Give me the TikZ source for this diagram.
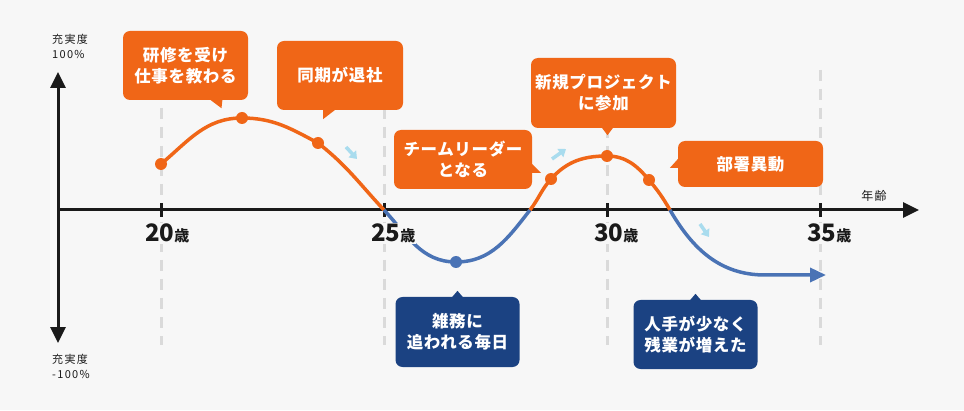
\documentclass[tikz,border=0pt]{standalone}
\usepackage{fontspec}
\setmainfont{Noto Sans CJK JP}
\usepackage{tikz}
\usetikzlibrary{arrows.meta, positioning}
\definecolor{bg}{HTML}{F7F7F7}
\definecolor{ink}{HTML}{1A1A1A}
\definecolor{guidegray}{HTML}{DADADA}
\definecolor{upcolor}{HTML}{F06617}
\definecolor{downcolor}{HTML}{1B4282}
\definecolor{lineblue}{HTML}{4A73B5}
\definecolor{hintblue}{HTML}{A9DCEE}

\begin{document}
\begin{tikzpicture}[x=1pt, y=1pt, font=\fontsize{11}{15}\selectfont]
    \tikzstyle{guide} = [draw=guidegray, line width=3pt, dash pattern=on 11pt off 8pt]
    \tikzstyle{axis} = [draw=ink, line width=3pt]
    \tikzstyle{upline} = [draw=upcolor, line width=3.5pt]
    \tikzstyle{downline} = [draw=lineblue, line width=3.5pt]
    \tikzstyle{updot} = [circle, fill=upcolor, inner sep=0pt, minimum size=12pt]
    \tikzstyle{downdot} = [circle, fill=lineblue, inner sep=0pt, minimum size=12pt]
    \tikzstyle{hint} = [draw=hintblue, line width=3.5pt, -{Triangle[length=7pt,width=10pt]}]
    \tikzstyle{bubble} = [rectangle, rounded corners=7pt, fill=upcolor, text=white, align=center, inner sep=0pt, font=\bfseries\fontsize{16.5}{21}\selectfont\addfontfeature{LetterSpace=4}]
    \tikzstyle{lowbubble} = [bubble, fill=downcolor]
    \tikzstyle{axislabel} = [anchor=north west, inner sep=0pt, text=ink, align=left, font=\fontsize{11}{15}\selectfont\addfontfeature{LetterSpace=12}]
    \tikzstyle{agelabel} = [anchor=base west, fill=bg, inner sep=1pt, text=ink, font=\bfseries\fontsize{24}{24}\selectfont]

    \fill[bg] (0,0) rectangle (964,410);
    \useasboundingbox (0,0) rectangle (964,410);

    \foreach \x in {161,384,607,820}
        \draw[guide] (\x,340) -- (\x,65);

    \coordinate (origin) at (58,200);
    \coordinate (ytop) at (58,338);
    \coordinate (ybot) at (58,67);
    \coordinate (xend) at (919,200);
    \draw[axis, {Triangle[length=16pt,width=15pt]}-{Triangle[length=16pt,width=15pt]}] (ybot) -- (ytop);
    \draw[axis, -{Triangle[length=16pt,width=15pt]}] (origin) -- (xend);
    \foreach \x in {161,384,607,820}
        \draw[axis] (\x,193) -- (\x,207);

    \node (maxlabel) [axislabel] at (52,376) {充実度\\100\%};
    \node (minlabel) [axislabel] at (52,56) {充実度\\-100\%};
    \node (agetitle) [text=ink, font=\fontsize{12}{12}\selectfont\addfontfeature{LetterSpace=12}] at (874,214) {年齢};

    \node (d1) [updot] at (161,246) {};
    \node (d2) [updot] at (242,292) {};
    \node (d3) [updot] at (318,267) {};
    \coordinate (x1) at (384,200);
    \node (d4) [downdot] at (456,148) {};
    \coordinate (x2) at (530,200);
    \node (d5) [updot] at (551,231) {};
    \node (d6) [updot] at (607,254) {};
    \node (d7) [updot] at (649,230) {};
    \coordinate (x3) at (670,200);
    \coordinate (bend) at (765,135);
    \coordinate (tail) at (826,135);

    \draw[upline] (d1.center) to[out=40,in=180] (d2.center) to[out=0,in=152] (d3.center) to[out=-38,in=133] (x1);
    \draw[downline] (x1) to[out=-47,in=180] (d4.center) to[out=0,in=232] (x2);
    \draw[upline] (x2) to[out=52,in=228] (d5.center) to[out=48,in=180] (d6.center) to[out=0,in=130] (d7.center) to[out=-50,in=120] (x3);
    \draw[downline, -{Triangle[length=16pt,width=14pt]}] (x3) to[out=-60,in=180] (bend) -- (tail);

    \coordinate (h1a) at (346,263);
    \coordinate (h1b) at (357,251);
    \coordinate (h2a) at (552,251);
    \coordinate (h2b) at (566,261);
    \coordinate (h3a) at (700,186);
    \coordinate (h3b) at (709,173);
    \draw[hint] (h1a) -- (h1b);
    \draw[hint] (h2a) -- (h2b);
    \draw[hint] (h3a) -- (h3b);

    \node (kenshu) [bubble, minimum width=125pt, minimum height=69pt] at (185.5,344.5) {研修を受け\\仕事を教わる};
    \fill[upcolor] ([xshift=24pt,yshift=1pt]kenshu.south) -- ([xshift=37pt,yshift=1pt]kenshu.south) -- ([xshift=36pt,yshift=-8pt]kenshu.south) -- cycle;
    \node (taisha) [bubble, minimum width=126pt, minimum height=69pt] at (340,334.5) {同期が退社};
    \fill[upcolor] ([xshift=-17pt,yshift=1pt]taisha.south) -- ([xshift=-4pt,yshift=1pt]taisha.south) -- ([xshift=-17pt,yshift=-9pt]taisha.south) -- cycle;
    \node (leader) [bubble, minimum width=138pt, minimum height=59pt] at (463,250.5) {チームリーダー\\となる};
    \fill[upcolor] ([xshift=-1pt,yshift=-3.5pt]leader.east) -- ([xshift=-1pt,yshift=-13.5pt]leader.east) -- ([xshift=9pt,yshift=-13.5pt]leader.east) -- cycle;
    \node (project) [bubble, minimum width=145pt, minimum height=70pt] at (603.5,317) {新規プロジェクト\\に参加};
    \fill[upcolor] ([xshift=-2pt,yshift=1pt]project.south) -- ([xshift=10pt,yshift=1pt]project.south) -- ([xshift=4pt,yshift=-7pt]project.south) -- cycle;
    \node (idou) [bubble, minimum width=145pt, minimum height=46pt] at (750.5,246) {部署異動};
    \fill[upcolor] ([xshift=1pt,yshift=6pt]idou.west) -- ([xshift=1pt,yshift=-4pt]idou.west) -- ([xshift=-8pt,yshift=-4pt]idou.west) -- cycle;

    \node (zatsumu) [lowbubble, minimum width=124pt, minimum height=70pt] at (457.5,78) {雑務に\\追われる毎日};
    \fill[downcolor] ([xshift=-6pt,yshift=-1pt]zatsumu.north) -- ([xshift=6pt,yshift=-1pt]zatsumu.north) -- ([yshift=6pt]zatsumu.north) -- cycle;
    \node (zangyo) [lowbubble, minimum width=124pt, minimum height=69pt] at (695.5,75.5) {人手が少なく\\残業が増えた};
    \fill[downcolor] ([xshift=-6pt,yshift=-1pt]zangyo.north) -- ([xshift=6pt,yshift=-1pt]zangyo.north) -- ([yshift=6pt]zangyo.north) -- cycle;

    \foreach \x/\n in {144/20,370/25,593/30,806/35}
        \node (age\n) [agelabel] at (\x,168) {\n{\fontsize{15}{15}\selectfont 歳}};
\end{tikzpicture}
\end{document}
